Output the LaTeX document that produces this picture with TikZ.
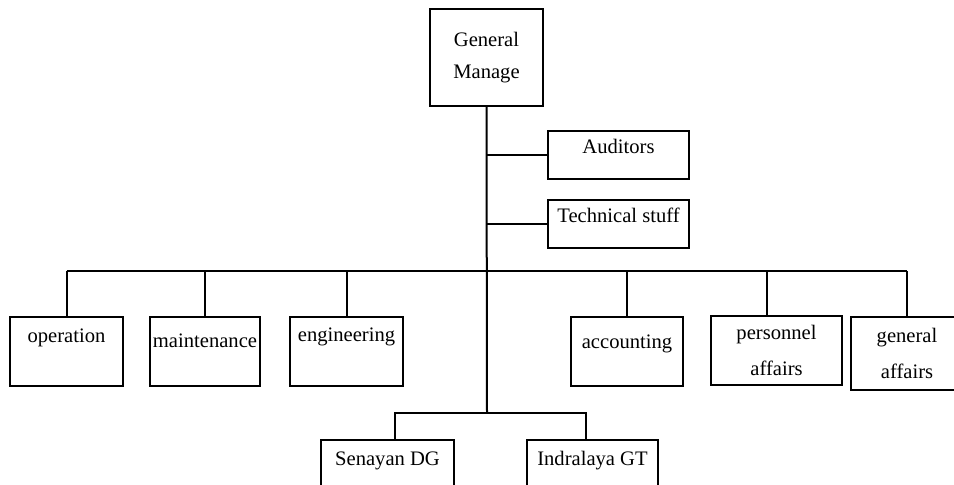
\documentclass[tikz,border=0pt]{standalone}
\usepackage{fontspec}
\setmainfont{Liberation Serif}
\begin{document}
\begin{tikzpicture}[x=0.5pt,y=-0.5pt,line width=1pt,
  font=\fontsize{10.3}{16}\selectfont,
  unit/.style={draw,inner sep=0pt,anchor=north},
  twoline/.style={draw,inner sep=0pt,align=center,font=\fontsize{10.3}{18}\selectfont}]
\clip (0,0) rectangle (954,485);
% head and staff
\node[draw,inner sep=0pt,minimum width=56.5pt,minimum height=48.5pt,align=center] (gm) at (486.5,57.5) {General\\Manage};
\node[unit,minimum width=70.5pt,text height=11.5pt,text depth=12.5pt] (aud) at (618.5,130) {Auditors};
\node[unit,minimum width=70.5pt,text height=11.5pt,text depth=12.5pt] (tech) at (618.5,199) {Technical stuff};
% departments
\node[unit,minimum width=56.5pt,text height=13pt,text depth=21.5pt] (op) at (66.5,316) {operation};
\node[unit,minimum width=55pt,text height=15.5pt,text depth=19pt] (mnt) at (205,316) {maintenance};
\node[unit,minimum width=56.5pt,text height=12.5pt,text depth=22pt] (eng) at (346.5,316) {engineering};
\node[unit,minimum width=56pt,text height=16pt,text depth=18.5pt] (acc) at (627,316) {accounting};
\node[twoline,minimum width=65.5pt,minimum height=34.5pt] (pers) at (776.5,350.5) {personnel\\affairs};
\node[twoline,minimum width=56pt,minimum height=36.5pt] (gen) at (907,353.5) {general\\affairs};
% plants
\node[unit,minimum width=66.5pt,text height=13pt,text depth=21.5pt] (sen) at (387.5,439) {Senayan DG};
\node[unit,minimum width=65.5pt,text height=13pt,text depth=21.5pt] (ind) at (592.5,439) {Indralaya GT};
% lines
\coordinate (hub) at (487,271);
\coordinate (low) at (487,413);
\draw (gm.south) -- (low);
\draw (aud.west) -- (aud.west -| gm.south);
\draw (tech.west) -- (tech.west -| gm.south);
\draw (op.north |- hub) -- (gen.north |- hub);
\foreach \d in {op,mnt,eng,acc,gen}{
\draw (\d.north) -- (\d.north |- hub);
}
\draw ([xshift=-5pt]pers.north) -- ([xshift=-5pt]pers.north |- hub);
\draw ([xshift=3.75pt]sen.north) |- (low) -| ([xshift=-3.25pt]ind.north);
\end{tikzpicture}
\end{document}
